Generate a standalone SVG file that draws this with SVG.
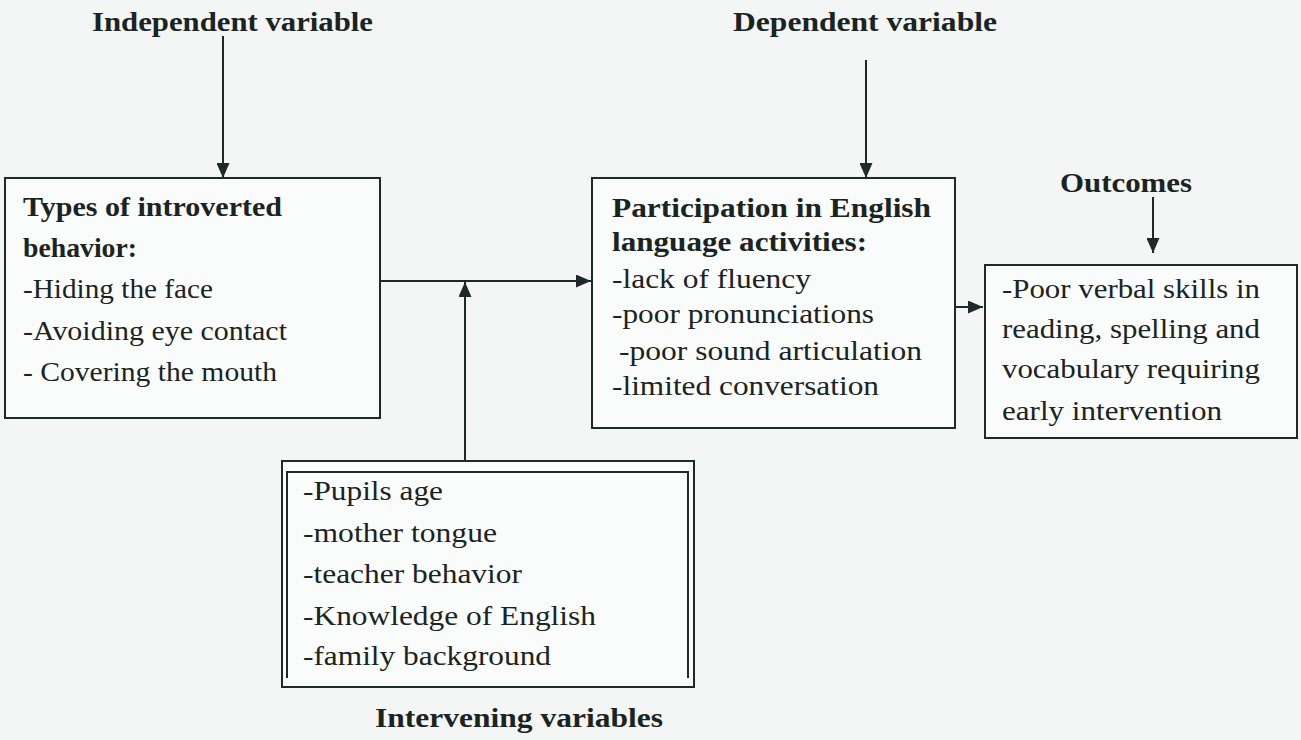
<svg xmlns="http://www.w3.org/2000/svg" width="1301" height="740" viewBox="0 0 1301 740">
<style>
.bg{fill:#f4f6f5}
.box{fill:#fafbfb;stroke:#1f2a28;stroke-width:2}
.ln{fill:none;stroke:#1f2a28;stroke-width:2}
.t{font-family:"Liberation Serif","Times New Roman",serif;font-size:28px;fill:#1a2422}
.b{font-weight:bold}
.lbl{font-family:"Liberation Serif","Times New Roman",serif;font-size:27px;font-weight:bold;fill:#1a2422}
</style>
<defs>
<marker id="ah" markerWidth="15" markerHeight="13" refX="15" refY="6.5" orient="auto" markerUnits="userSpaceOnUse">
<path d="M0,0 L15,6.5 L0,13 Z" fill="#1f2a28"/>
</marker>
</defs>
<rect class="bg" x="0" y="0" width="1301" height="740"/>
<g id="labels">
<text class="lbl" x="92" y="31" textLength="281" lengthAdjust="spacingAndGlyphs">Independent variable</text>
<text class="lbl" x="733" y="31" textLength="264" lengthAdjust="spacingAndGlyphs">Dependent variable</text>
<text class="lbl" x="1060" y="192" textLength="132" lengthAdjust="spacingAndGlyphs">Outcomes</text>
<text class="lbl" x="375" y="727" textLength="288" lengthAdjust="spacingAndGlyphs">Intervening variables</text>
</g>
<g id="node-introverted">
<rect class="box" x="5" y="178" width="375" height="240"/>
<text class="t b" x="23" y="216" textLength="259" lengthAdjust="spacingAndGlyphs">Types of introverted</text>
<text class="t b" x="23" y="257" textLength="114" lengthAdjust="spacingAndGlyphs">behavior:</text>
<text class="t" x="23" y="298" textLength="190" lengthAdjust="spacingAndGlyphs">-Hiding the face</text>
<text class="t" x="23" y="340" textLength="264" lengthAdjust="spacingAndGlyphs">-Avoiding eye contact</text>
<text class="t" x="23" y="381" textLength="254" lengthAdjust="spacingAndGlyphs">- Covering the mouth</text>
</g>
<g id="node-participation">
<rect class="box" x="592" y="178" width="363" height="250"/>
<text class="t b" x="612" y="217" textLength="319" lengthAdjust="spacingAndGlyphs">Participation in English</text>
<text class="t b" x="612" y="251" textLength="255" lengthAdjust="spacingAndGlyphs">language activities:</text>
<text class="t" x="612" y="288" textLength="199" lengthAdjust="spacingAndGlyphs">-lack of fluency</text>
<text class="t" x="612" y="323" textLength="262" lengthAdjust="spacingAndGlyphs">-poor pronunciations</text>
<text class="t" x="619" y="360" textLength="303" lengthAdjust="spacingAndGlyphs">-poor sound articulation</text>
<text class="t" x="612" y="395" textLength="267" lengthAdjust="spacingAndGlyphs">-limited conversation</text>
</g>
<g id="node-outcomes">
<rect class="box" x="985" y="265" width="312" height="173"/>
<text class="t" x="1002" y="298" textLength="258" lengthAdjust="spacingAndGlyphs">-Poor verbal skills in</text>
<text class="t" x="1002" y="338" textLength="258" lengthAdjust="spacingAndGlyphs">reading, spelling and</text>
<text class="t" x="1002" y="378" textLength="258" lengthAdjust="spacingAndGlyphs">vocabulary requiring</text>
<text class="t" x="1002" y="420" textLength="220" lengthAdjust="spacingAndGlyphs">early intervention</text>
</g>
<g id="node-intervening">
<rect class="box" x="282" y="461" width="412" height="226"/>
<path class="ln" d="M287,678 V472 H688 V678"/>
<text class="t" x="303" y="500" textLength="140" lengthAdjust="spacingAndGlyphs">-Pupils age</text>
<text class="t" x="303" y="542" textLength="194" lengthAdjust="spacingAndGlyphs">-mother tongue</text>
<text class="t" x="303" y="583" textLength="219" lengthAdjust="spacingAndGlyphs">-teacher behavior</text>
<text class="t" x="303" y="625" textLength="293" lengthAdjust="spacingAndGlyphs">-Knowledge of English</text>
<text class="t" x="303" y="665" textLength="248" lengthAdjust="spacingAndGlyphs">-family background</text>
</g>
<g id="connectors">
<line class="ln" x1="223" y1="36" x2="223" y2="178" marker-end="url(#ah)"/>
<line class="ln" x1="866" y1="60" x2="866" y2="178" marker-end="url(#ah)"/>
<line class="ln" x1="1153" y1="197" x2="1153" y2="253" marker-end="url(#ah)"/>
<line class="ln" x1="380" y1="281" x2="591" y2="281" marker-end="url(#ah)"/>
<line class="ln" x1="465" y1="461" x2="465" y2="282" marker-end="url(#ah)"/>
<line class="ln" x1="955" y1="307" x2="983" y2="307" marker-end="url(#ah)"/>
</g>
</svg>
